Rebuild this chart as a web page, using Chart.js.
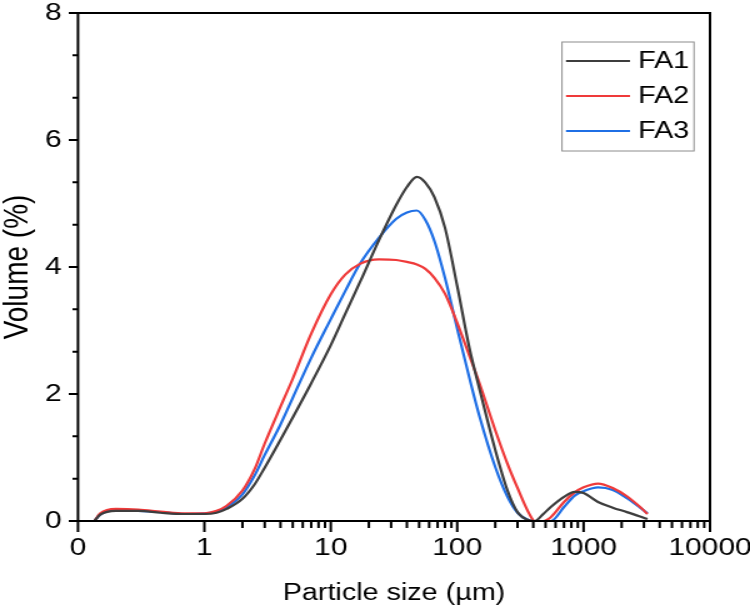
<!DOCTYPE html>
<html>
<head>
<meta charset="utf-8">
<script src="https://cdn.jsdelivr.net/npm/chart.js@4.4.1/dist/chart.umd.min.js"></script>
<style>
  html, body { margin: 0; padding: 0; background: #fff; }
  #wrap { width: 750px; height: 615px; overflow: hidden; }
  /* the source figure is stretched sideways, so the canvas is too */
  #myChart { transform: scaleX(1.25); transform-origin: 0 0; }
</style>
</head>
<body>
<div id="wrap"><canvas id="myChart" width="600" height="615" style="width:600px;height:615px"></canvas></div>
<script>
// particle size (µm) and volume (%)
const sizes = [0.135, 0.15, 0.2, 0.3, 0.45, 0.7, 1, 1.25, 1.5, 2, 2.5, 3, 4, 5, 7, 10, 13, 17, 24, 33, 40, 48,
               56, 66, 80, 100, 125, 150, 200, 250, 300, 370, 410, 480, 550, 700, 850, 1000, 1300, 1700, 2200, 2800, 3200];
const fa1 = [0, 0.10, 0.16, 0.16, 0.13, 0.11, 0.11, 0.13, 0.19, 0.35, 0.58, 0.84, 1.28, 1.63, 2.17, 2.77, 3.26, 3.76, 4.42, 4.98, 5.26, 5.42,
             5.33, 5.10, 4.62, 3.70, 2.72, 2.08, 1.12, 0.48, 0.14, 0.01, 0, 0.11, 0.22, 0.38, 0.46, 0.44, 0.30, 0.21, 0.14, 0.07, 0.03];
const fa2 = [0, 0.12, 0.19, 0.18, 0.15, 0.12, 0.12, 0.16, 0.24, 0.48, 0.82, 1.22, 1.80, 2.24, 2.95, 3.57, 3.88, 4.05, 4.12, 4.11, 4.08, 4.04,
             3.97, 3.83, 3.58, 3.12, 2.60, 2.17, 1.43, 0.90, 0.52, 0.12, 0, 0, 0.06, 0.30, 0.45, 0.53, 0.59, 0.52, 0.39, 0.22, 0.11];
const fa3 = [0, 0.10, 0.17, 0.16, 0.14, 0.11, 0.12, 0.15, 0.22, 0.42, 0.72, 1.04, 1.52, 1.94, 2.57, 3.18, 3.62, 4.05, 4.46, 4.76, 4.86, 4.89,
             4.74, 4.41, 3.83, 3.03, 2.25, 1.65, 0.85, 0.38, 0.13, 0.01, 0, 0, 0, 0.22, 0.40, 0.47, 0.53, 0.49, 0.36, 0.21, 0.12];

const seriesNames = ['FA1', 'FA2', 'FA3'];
const seriesColors = ['#3d3d3d', '#ef3a3a', '#1f6fe5'];

const xTicks = [0.1, 1, 10, 100, 1000, 10000];
const xTickLabels = ['0', '1', '10', '100', '1000', '10000'];
const yTicks = [0, 2, 4, 6, 8];

// minor ticks: 2..9 in each decade from 1 up, two between the y majors
const xMinor = [];
[1, 10, 100, 1000].forEach(d => { for (let k = 2; k <= 9; k++) xMinor.push(k * d); });
const yMinor = [];
for (let i = 0; i < yTicks.length - 1; i++) {
    yMinor.push(yTicks[i] + 2 / 3, yTicks[i] + 4 / 3);
}

const font = 'Liberation Sans, Arial, Helvetica, sans-serif';

function toPoints(vals) {
    return sizes.map((s, i) => ({ x: s, y: vals[i] }));
}

function tickLines(ctx, list) {
    ctx.beginPath();
    list.forEach(t => {
        ctx.moveTo(t[0], t[1]);
        ctx.lineTo(t[2], t[3]);
    });
    ctx.stroke();
}

const frameAndTicks = {
    id: 'frameAndTicks',
    afterDraw(chart) {
        const { ctx, chartArea: a, scales: { x, y } } = chart;
        ctx.save();
        ctx.strokeStyle = '#000';
        ctx.lineWidth = 2;
        ctx.lineCap = 'butt';
        tickLines(ctx, yTicks.map(v => { const p = y.getPixelForValue(v); return [a.left - 7.4, p, a.left, p]; }));
        tickLines(ctx, yMinor.map(v => { const p = y.getPixelForValue(v); return [a.left - 4.4, p, a.left, p]; }));
        tickLines(ctx, xTicks.map(v => { const p = x.getPixelForValue(v); return [p, a.bottom, p, a.bottom + 11]; }));
        tickLines(ctx, xMinor.map(v => { const p = x.getPixelForValue(v); return [p, a.bottom, p, a.bottom + 7]; }));
        ctx.strokeRect(a.left, a.top, a.right - a.left, a.bottom - a.top);
        ctx.restore();
    }
};

const boxLegend = {
    id: 'boxLegend',
    afterDraw(chart) {
        const { ctx, chartArea: a } = chart;
        const left = a.right - 118.4;
        const top = a.top + 29;
        ctx.save();
        ctx.fillStyle = '#fff';
        ctx.fillRect(left, top, 105.6, 109);
        ctx.strokeStyle = '#8c8c8c';
        ctx.lineWidth = 1;
        ctx.strokeRect(left, top, 105.6, 109);
        chart.data.datasets.forEach((ds, i) => {
            const yy = top + 19 + i * 35;
            ctx.strokeStyle = ds.borderColor;
            ctx.lineWidth = 2;
            ctx.beginPath();
            ctx.moveTo(left + 3.2, yy);
            ctx.lineTo(left + 54.4, yy);
            ctx.stroke();
            ctx.fillStyle = '#000';
            ctx.font = '23px ' + font;
            ctx.textBaseline = 'middle';
            ctx.textAlign = 'left';
            ctx.fillText(ds.label, left + 60.8, yy + 1);
        });
        ctx.restore();
    }
};

const ctx = document.getElementById('myChart').getContext('2d');
const myChart = new Chart(ctx, {
    type: 'line',
    data: {
        datasets: [fa1, fa2, fa3].map((vals, i) => ({
            label: seriesNames[i],
            data: toPoints(vals),
            borderColor: seriesColors[i],
            backgroundColor: seriesColors[i],
            borderWidth: 2.2,
            pointRadius: 0,
            fill: false,
            cubicInterpolationMode: 'monotone'
        }))
    },
    options: {
        responsive: false,
        animation: false,
        devicePixelRatio: 1,
        layout: { padding: { top: 13, right: 32, left: 0, bottom: 0 } },
        plugins: {
            legend: { display: false },
            tooltip: { enabled: false }
        },
        scales: {
            x: {
                type: 'logarithmic',
                min: 0.1,
                max: 10000,
                border: { display: false },
                grid: { display: false, drawTicks: false },
                afterBuildTicks: scale => {
                    scale.ticks = xTicks.map(v => ({ value: v }));
                },
                afterFit: scale => {
                    scale.height = 94;
                    scale.paddingLeft = 0;
                    scale.paddingRight = 0;
                },
                ticks: {
                    autoSkip: false,
                    maxRotation: 0,
                    padding: 13,
                    color: '#000',
                    font: { family: font, size: 24 },
                    callback: (val) => {
                        const i = xTicks.indexOf(val);
                        return i === -1 ? '' : xTickLabels[i];
                    }
                },
                title: {
                    display: true,
                    text: 'Particle size (µm)',
                    color: '#000',
                    font: { family: font, size: 23 },
                    padding: { top: 0, bottom: 8 }
                }
            },
            y: {
                min: 0,
                max: 8,
                border: { display: false },
                grid: { display: false, drawTicks: false },
                afterBuildTicks: scale => {
                    scale.ticks = yTicks.map(v => ({ value: v }));
                },
                afterFit: scale => {
                    scale.width = 62.4;
                    scale.paddingTop = 0;
                    scale.paddingBottom = 0;
                },
                ticks: {
                    padding: 13,
                    color: '#000',
                    font: { family: font, size: 24 }
                },
                title: {
                    display: true,
                    text: 'Volume (%)',
                    color: '#000',
                    font: { family: font, size: 28, lineHeight: 1 },
                    padding: { top: 0, bottom: 0 }
                }
            }
        }
    },
    plugins: [frameAndTicks, boxLegend]
});
</script>
</body>
</html>
